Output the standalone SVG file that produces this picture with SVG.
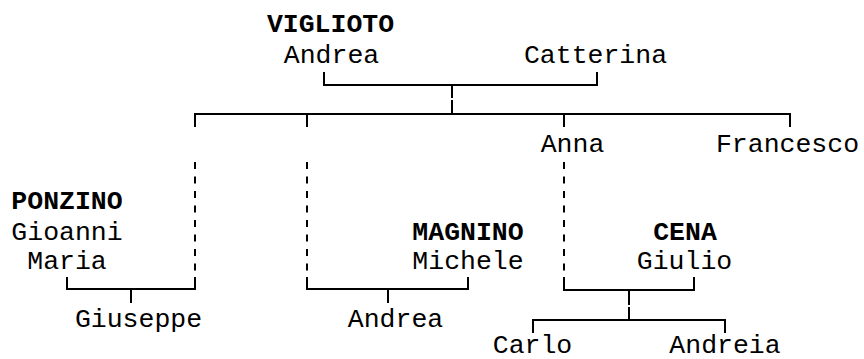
<svg xmlns="http://www.w3.org/2000/svg" width="864" height="359" viewBox="0 0 864 359">
<style>
text{font-family:"Liberation Mono","DejaVu Sans Mono",monospace;font-size:26.5px;fill:#000;text-anchor:middle}
.sn{font-weight:bold}
.ln{fill:none;stroke:#000;stroke-width:2}
.dsh{fill:none;stroke:#000;stroke-width:2;stroke-dasharray:7 7.5}
</style>
<rect width="864" height="359" fill="#fff"/>
<g id="connectors">
<path class="ln" d="M324,72V85H597V72"/>
<path class="ln" d="M452,85V98M452,100V114"/>
<path class="ln" d="M195,127V114H790V127M307,114V127M564,114V127"/>
<path class="dsh" d="M195,162V278M307,162V278M564,162V278"/>
<path class="ln" d="M195,277V289H67V277M131,289V303"/>
<path class="ln" d="M307,277V289H468V277M388,289V303"/>
<path class="ln" d="M564,277V290H694V277"/>
<path class="ln" d="M629,290V305M629,307V320"/>
<path class="ln" d="M533,333V320H725V333"/>
</g>
<g id="vigliotot_andrea"><text class="sn" x="330.5" y="32">VIGLIOTO</text><text x="331.5" y="63">Andrea</text></g>
<g id="catterina"><text x="595.5" y="63">Catterina</text></g>
<g id="anna"><text x="572.5" y="152">Anna</text></g>
<g id="francesco"><text x="787.5" y="152">Francesco</text></g>
<g id="ponzino"><text class="sn" x="67" y="209">PONZINO</text><text x="67" y="240">Gioanni</text><text x="67" y="269">Maria</text></g>
<g id="magnino"><text class="sn" x="468" y="240">MAGNINO</text><text x="468" y="269">Michele</text></g>
<g id="cena"><text class="sn" x="685" y="240">CENA</text><text x="684.5" y="269">Giulio</text></g>
<g id="giuseppe"><text x="138.5" y="327">Giuseppe</text></g>
<g id="andrea2"><text x="395.5" y="327">Andrea</text></g>
<g id="carlo"><text x="532.5" y="353">Carlo</text></g>
<g id="andreia"><text x="725" y="353">Andreia</text></g>
</svg>
